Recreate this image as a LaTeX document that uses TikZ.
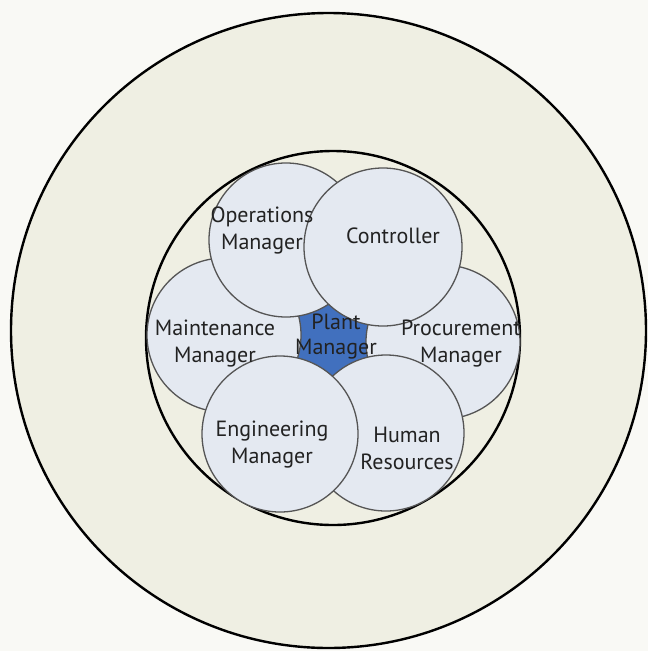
\documentclass[tikz,border=0pt]{standalone}
\usepackage{fontspec}
\setmainfont{PT Sans}
\definecolor{bgwhite}{HTML}{F9F9F5}
\definecolor{cream}{HTML}{EFEFE3}
\definecolor{bubble}{HTML}{E4E9F1}
\definecolor{bubbleedge}{HTML}{555555}
\definecolor{plantblue}{HTML}{4170BE}
\definecolor{txt}{HTML}{222222}
\tikzset{
  ring/.style={circle, draw=black, line width=2.4pt, fill=cream, inner sep=0pt},
  bubblec/.style={circle, draw=bubbleedge, line width=1.3pt, fill=bubble, inner sep=0pt},
  lbl/.style={text=txt, align=center, inner sep=0pt, font=\fontsize{22}{27}\selectfont},
  lblone/.style={text=txt, inner sep=0pt, anchor=base, font=\fontsize{22}{27}\selectfont}
}
\begin{document}
\begin{tikzpicture}[x=1pt,y=-1pt]
\fill[bgwhite] (0,0) rectangle (648,651);
\useasboundingbox (0,0) rectangle (648,651);
% outer and inner rings
\node[ring, minimum size=635pt] (outer) at (328.5,330.5) {};
\node[ring, minimum size=374pt] (inner) at (333,338) {};
% central blue hub
\node[circle, fill=plantblue, minimum size=92pt, inner sep=0pt] (hub) at (334,340) {};
% six bubbles (back to front)
\node[bubblec, minimum size=154pt] (maint) at (224,335) {};
\node[bubblec, minimum size=154pt] (proc) at (443,342) {};
\node[bubblec, minimum size=156pt] (hr) at (386,433) {};
\node[bubblec, minimum size=156pt] (eng) at (280,434) {};
\node[bubblec, minimum size=154pt] (ops) at (286,240) {};
\node[bubblec, minimum size=158pt] (ctrl) at (383,247) {};
% labels
\node[lbl] (opsT) at (262,230) {Operations\\Manager};
\node[lblone] (ctrlT) at (393,243) {Controller};
\node[lbl] (maintT) at (215,343.5) {Maintenance\\Manager};
\node[lbl, font=\fontsize{22}{25}\selectfont] (plantT) at (336,337) {Plant\\Manager};
\node[lbl] (procT) at (461,343.5) {Procurement\\Manager};
\node[lbl] (engT) at (272,445) {Engineering\\Manager};
\node[lbl] (hrT) at (407,448) {Human\\Resources};
\end{tikzpicture}
\end{document}
